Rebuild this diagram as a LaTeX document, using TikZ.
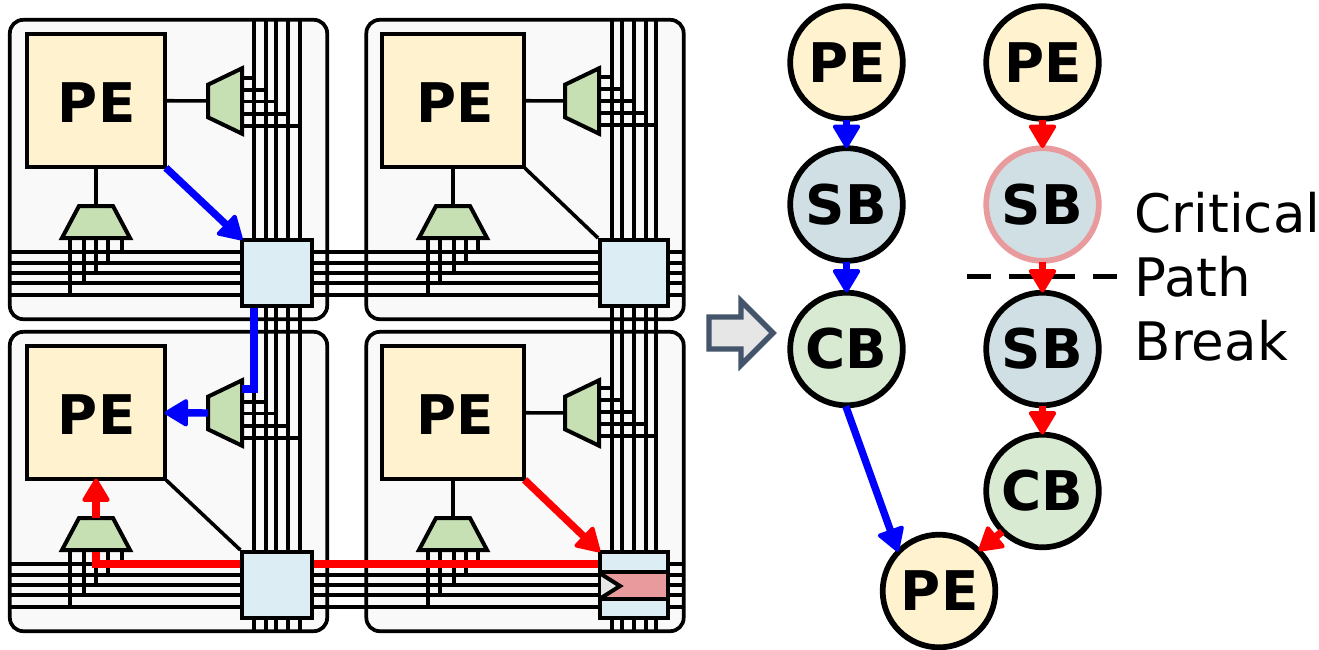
\documentclass[tikz,border=0pt]{standalone}
\usepackage{fontspec}
\setmainfont{DejaVu Sans}
\usetikzlibrary{arrows.meta,shapes.geometric}
\definecolor{tilefill}{HTML}{F9F9F9}
\definecolor{pefill}{HTML}{FFF2CF}
\definecolor{sbfill}{HTML}{DCEDF3}
\definecolor{muxfill}{HTML}{C6E0B4}
\definecolor{regfill}{HTML}{E99A9C}
\definecolor{sbround}{HTML}{D0DFE3}
\definecolor{cbround}{HTML}{D9EAD3}
\definecolor{bigarrow}{HTML}{44546A}
\definecolor{clockfill}{HTML}{E6E6E6}
\begin{document}
\begin{tikzpicture}[
    x=0.75pt, y=-0.75pt,
    tilebox/.style={draw, line width=2.8pt, fill=tilefill, rounded corners=10pt, inner sep=0pt, minimum width=238pt, minimum height=224.5pt},
    wire/.style={line width=2.7pt},
    pebox/.style={draw, line width=3pt, fill=pefill, inner sep=0pt, minimum width=104pt, minimum height=100pt, text height=33pt, font=\fontsize{41}{48}\selectfont\bfseries},
    sbbox/.style={draw, line width=3pt, fill=sbfill, inner sep=0pt, minimum width=52pt, minimum height=49.5pt},
    muxr/.style={draw, line width=3pt, fill=muxfill, trapezium, rotate=90, trapezium stretches=true, trapezium left angle=63.4, trapezium right angle=63.4, inner sep=1pt, minimum width=49pt, minimum height=25.5pt},
    muxb/.style={draw, line width=3pt, fill=muxfill, trapezium, trapezium stretches=true, trapezium left angle=63.4, trapezium right angle=63.4, inner sep=1pt, minimum width=51pt, minimum height=24pt},
    round node/.style={circle, draw, line width=4.3pt, inner sep=0pt, minimum size=84.5pt, font=\fontsize{41}{48}\selectfont\bfseries},
    lbl/.style={anchor=base west, inner sep=0pt, font=\fontsize{39.8}{48}\selectfont},
    thin link/.style={line width=2.7pt, shorten <=-1pt},
    blue link/.style={draw=blue, line width=5.5pt, shorten <=-1.5pt, shorten >=-2pt, -{Triangle[line width=3pt, round, length=19pt, width=22pt]}},
    red link/.style={draw=red, line width=5.5pt, shorten <=-1.5pt, shorten >=-2pt, -{Triangle[line width=3pt, round, length=19pt, width=22pt]}}
    ]
    \useasboundingbox (0,0) rectangle (1319,649);

    % tiles
    \node[tilebox] (tile1) at (168.5,169.5) {};
    \node[tilebox] (tile2) at (525,169.5) {};
    \node[tilebox] (tile3) at (168.5,481.5) {};
    \node[tilebox] (tile4) at (525,481.5) {};

    % routing tracks
    \foreach \wy in {252,263,273,283,295,564,575,585,595,607}
        \draw[wire] (10,\wy) -- (684,\wy);
    \foreach \wx in {254,266,276,288,300,612,622,634,646,656}
        \draw[wire] (\wx,20) -- (\wx,631);

    % mux taps
    \foreach \wx/\wy in {254/78,266/90,276/101.5,288/114,300/126}
        \draw[wire] (242,\wy) -- (\wx,\wy);
    \foreach \wx/\wy in {612/77,622/89,634/101,646/113,656/125}
        \draw[wire] (600,\wy) -- (\wx,\wy);
    \foreach \wx/\wy in {266/402,276/413.5,288/426,300/438}
        \draw[wire] (242,\wy) -- (\wx,\wy);
    \foreach \wx/\wy in {612/388,622/400,634/412,646/424,656/436}
        \draw[wire] (600,\wy) -- (\wx,\wy);
    \foreach \wx/\wy in {70/295,84/283,96/273,108/263,122/252}
        \draw[wire] (\wx,238) -- (\wx,\wy);
    \foreach \wx/\wy in {428/295,440/283,454/273,466/263,478/252}
        \draw[wire] (\wx,238) -- (\wx,\wy);
    \foreach \wx/\wy in {70/607,84/595,96/585,108/575,122/564}
        \draw[wire] (\wx,550) -- (\wx,\wy);
    \foreach \wx/\wy in {428/607,440/595,454/585,466/575,478/564}
        \draw[wire] (\wx,550) -- (\wx,\wy);

    % blocks
    \node[pebox] (pe1) at (96,100.5) {\hspace*{1pt}PE};
    \node[pebox, minimum width=106.5pt] (pe2) at (453,100.5) {\hspace*{3pt}PE};
    \node[pebox] (pe3) at (96,412.5) {\hspace*{1pt}PE};
    \node[pebox, minimum width=106.5pt] (pe4) at (453,412.5) {\hspace*{3pt}PE};
    \node[muxr] (muxr1) at (225,101) {};
    \node[muxr] (muxr2) at (582,101) {};
    \node[muxr] (muxr3) at (225,413) {};
    \node[muxr] (muxr4) at (582,413) {};
    \node[muxb] (muxb1) at (96,222) {};
    \node[muxb] (muxb2) at (453,222) {};
    \node[muxb] (muxb3) at (96,534) {};
    \node[muxb] (muxb4) at (453,534) {};
    \node[sbbox] (sb1) at (277,273) {};
    \node[sbbox, minimum width=51pt] (sb2) at (634,273) {};
    \node[sbbox] (sb3) at (277,585) {};
    \node[sbbox, minimum width=51pt] (reg) at (634,585) {};
    \node[draw, line width=3pt, fill=regfill, inner sep=0pt, minimum width=51pt, minimum height=20pt] (regmid) at (634,585.5) {};
    \draw[line width=3pt, fill=clockfill] (601,574) -- (620,586) -- (601,598);

    % links inside the tiles
    \draw[thin link] (pe1) -- (muxr1);
    \draw[thin link] (pe1) -- (muxb1);
    \draw[thin link] (pe2) -- (muxr2);
    \draw[thin link] (pe2) -- (muxb2);
    \draw[thin link] (pe2.south east) -- (sb2.north west);
    \draw[thin link] (pe3.south east) -- (sb3.north west);
    \draw[thin link] (pe4) -- (muxr4);
    \draw[thin link] (pe4) -- (muxb4);

    % blue route
    \coordinate (bluebend) at (254,389);
    \coordinate (blueend) at (242,389);
    \draw[blue link] (pe1.south east) -- (sb1.north west);
    \draw[draw=blue, line width=5.5pt] (sb1.south -| bluebend) -- (bluebend) -- (blueend);
    \draw[blue link] (muxr3) -- (pe3);

    % red route
    \coordinate (redbend) at (96,564);
    \coordinate (redstart) at (96,552);
    \draw[draw=red, line width=5.5pt] (redstart) -- (redbend) -- (sb3.west |- redbend);
    \draw[draw=red, line width=5.5pt] (sb3.east |- redbend) -- (reg.west |- redbend);
    \draw[red link] (muxb3) -- (pe3);
    \draw[red link] (pe4.south east) -- (reg.north west);

    % big arrow
    \draw[draw=bigarrow, fill=clockfill, line width=4pt, miter limit=10]
        (709,317) -- (741,317) -- (741,301) -- (773,333) -- (741,365) -- (741,349) -- (709,349) -- cycle;

    % path graphs
    \node[round node, fill=pefill] (pe5) at (846.5,62.5) {\hspace*{1pt}PE};
    \node[round node, fill=sbround] (sb4) at (846.5,204.5) {SB};
    \node[round node, fill=cbround] (cb1) at (846.5,349) {CB};
    \node[round node, fill=pefill] (pe6) at (1042.5,62.5) {\hspace*{1pt}PE};
    \node[round node, fill=sbround, draw=regfill] (sb5) at (1042.5,204.5) {SB};
    \node[round node, fill=sbround] (sb6) at (1042.5,349) {SB};
    \node[round node, fill=cbround] (cb2) at (1042.5,491) {CB};
    \node[round node, fill=pefill] (pe7) at (939,591) {\hspace*{1pt}PE};

    \coordinate (cutl) at (967,276.5);
    \coordinate (cutr) at (1117,276.5);
    \draw[line width=3.75pt, dash pattern=on 18pt off 13.5pt] (cutl) -- (cutr);

    \draw[blue link] (pe5) -- (sb4);
    \draw[blue link] (sb4) -- (cb1);
    \draw[blue link] (cb1.south) -- (pe7.north west);
    \draw[red link] (pe6) -- (sb5);
    \draw[red link] (sb5) -- (sb6);
    \draw[red link] (sb6) -- (cb2);
    \draw[red link] (cb2.south west) -- (pe7.north east);

    \node[lbl] (critical) at (1134.5,232) {Critical};
    \node[lbl] (path) at (1134.5,296) {Path};
    \node[lbl] (break) at (1134.5,360) {Break};
\end{tikzpicture}
\end{document}
